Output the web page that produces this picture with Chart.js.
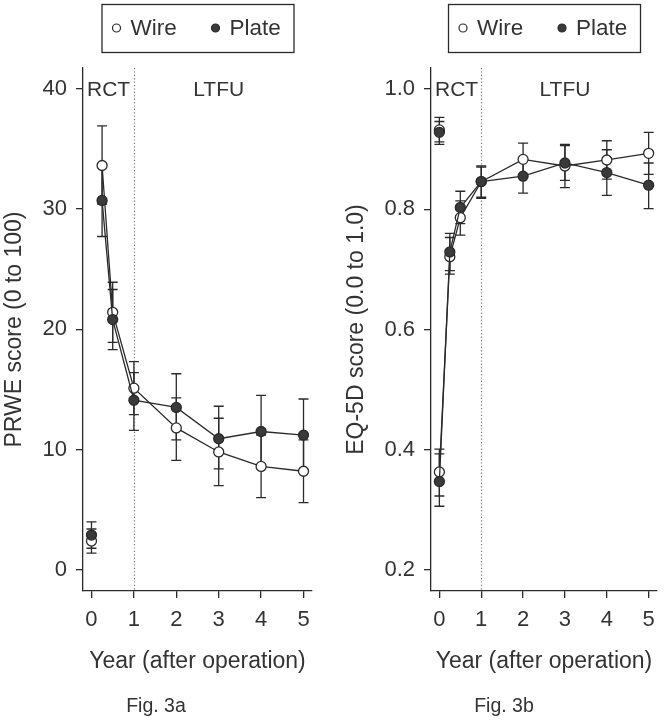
<!DOCTYPE html>
<html>
<head>
<meta charset="utf-8">
<title>PRWE and EQ-5D scores, wire vs plate</title>
<script src="https://cdn.jsdelivr.net/npm/chart.js@4.4.0/dist/chart.umd.min.js"></script>
<style>
  body { margin: 0; background: #fff; }
  .panel { position: absolute; top: 0; width: 332px; height: 722px; }
  #panelA { left: 0; }
  #panelB { left: 332px; }
</style>
</head>
<body>
<div id="panelA" class="panel"><canvas id="chartA" width="332" height="722"></canvas></div>
<div id="panelB" class="panel"><canvas id="chartB" width="332" height="722"></canvas></div>
<script>
// x ticks shared by both panels
const yearTicks = [0, 1, 2, 3, 4, 5]

// Fig. 3a - PRWE (first point = pre-injury, not joined to the rest)
const prweYears = [0, 0.25, 0.5, 1, 2, 3, 4, 5]
const prweWire = [2.4, 33.6, 21.4, 15.1, 11.8, 9.8, 8.6, 8.2]
const prweWireLo = [1.4, 30.4, 18.9, 12.9, 9.1, 7.0, 6.0, 5.6]
const prweWireHi = [3.4, 36.9, 23.9, 17.3, 14.3, 12.6, 11.2, 10.8]
const prwePlate = [2.9, 30.7, 20.8, 14.1, 13.5, 10.9, 11.5, 11.2]
const prwePlateLo = [1.8, 27.7, 18.3, 11.6, 10.8, 8.4, 8.6, 8.3]
const prwePlateHi = [4.0, 33.7, 23.3, 16.4, 16.3, 13.6, 14.5, 14.2]
const prweTicks = [0, 10, 20, 30, 40]

// Fig. 3b - EQ-5D (first point = pre-injury, second = at injury)
const eqYears = [0, 0, 0.25, 0.5, 1, 2, 3, 4, 5]
const eqWire = [0.932, 0.363, 0.721, 0.786, 0.846, 0.883, 0.872, 0.882, 0.893]
const eqWireLo = [0.912, 0.323, 0.692, 0.757, 0.820, 0.856, 0.836, 0.850, 0.858]
const eqWireHi = [0.953, 0.401, 0.753, 0.814, 0.870, 0.910, 0.908, 0.914, 0.928]
const eqPlate = [0.928, 0.347, 0.729, 0.803, 0.846, 0.855, 0.877, 0.861, 0.840]
const eqPlateLo = [0.908, 0.306, 0.698, 0.776, 0.818, 0.827, 0.848, 0.823, 0.801]
const eqPlateHi = [0.946, 0.393, 0.760, 0.830, 0.872, 0.883, 0.906, 0.899, 0.877]
const eqTicks = [0.2, 0.4, 0.6, 0.8, 1.0]

const ink = '#2a2a2a'
const txt = '#333'
Chart.defaults.font.family = "'Liberation Sans', Arial, sans-serif"
Chart.defaults.color = txt

// points with a null y after the first one break the line there
function series(xs, ys, lo, hi) {
  const out = []
  xs.forEach((x, i) => {
    out.push({ x: x, y: ys[i], lo: lo[i], hi: hi[i] })
    if (i === 0) out.push({ x: xs[1], y: null })
  })
  return out
}

const decor = {
  id: 'decor',
  beforeDatasetsDraw(chart, args, opts) {
    const { ctx, chartArea: a, scales: { x, y } } = chart
    ctx.save()
    // dotted split RCT / LTFU
    const px = Math.round(x.getPixelForValue(opts.splitAt)) + 0.5
    ctx.strokeStyle = '#777'
    ctx.lineWidth = 1.2
    ctx.setLineDash([1.2, 2.2])
    ctx.beginPath()
    ctx.moveTo(px, a.top)
    ctx.lineTo(px, a.bottom)
    ctx.stroke()
    ctx.setLineDash([])
    // error bars
    ctx.strokeStyle = ink
    ctx.lineWidth = 1.3
    chart.data.datasets.forEach(ds => ds.data.forEach(p => {
      if (p.y == null) return
      const cx = x.getPixelForValue(p.x)
      const t = y.getPixelForValue(p.hi)
      const b = y.getPixelForValue(p.lo)
      ctx.beginPath()
      ctx.moveTo(cx, t); ctx.lineTo(cx, b)
      ctx.moveTo(cx - 5, t); ctx.lineTo(cx + 5, t)
      ctx.moveTo(cx - 5, b); ctx.lineTo(cx + 5, b)
      ctx.stroke()
    }))
    ctx.restore()
  },
  afterDraw(chart, args, opts) {
    const { ctx, chartArea: a, scales: { x } } = chart
    ctx.save()
    ctx.fillStyle = txt
    ctx.textBaseline = 'middle'
    // period labels
    ctx.font = "21px 'Liberation Sans', Arial, sans-serif"
    ctx.textAlign = 'left'
    ctx.fillText('RCT', a.left + 4, a.top + 22)
    ctx.textAlign = 'center'
    ctx.fillText('LTFU', x.getPixelForValue(3), a.top + 22)
    // legend box
    const bw = 192, bx = (a.left + a.right) / 2 - bw / 2, by = 4, bh = 48
    ctx.strokeStyle = ink
    ctx.lineWidth = 1.3
    ctx.strokeRect(bx + 0.5, by + 0.5, bw, bh)
    ctx.font = "22.5px 'Liberation Sans', Arial, sans-serif"
    ctx.textAlign = 'left'
    const offs = [15, 114]
    chart.data.datasets.forEach((ds, i) => {
      const cx = bx + offs[i], cy = by + bh / 2
      ctx.beginPath()
      ctx.arc(cx, cy, 4, 0, Math.PI * 2)
      ctx.fillStyle = ds.pointBackgroundColor
      ctx.fill()
      ctx.lineWidth = 1.2
      ctx.stroke()
      ctx.fillStyle = txt
      ctx.fillText(ds.label, cx + 14, cy + 1)
    })
    // figure caption
    ctx.font = "19.5px 'Liberation Sans', Arial, sans-serif"
    ctx.textAlign = 'center'
    ctx.fillText(opts.caption, a.left + 73, 707)
    ctx.restore()
  }
}

function makeChart(id, cfg) {
  const lineStyle = {
    borderColor: ink,
    borderWidth: 1.3,
    pointRadius: 5,
    pointBorderWidth: 1.3,
    pointBorderColor: ink,
    spanGaps: false,
    tension: 0
  }
  return new Chart(document.getElementById(id), {
    type: 'line',
    data: {
      datasets: [
        Object.assign({ label: 'Wire', data: cfg.wire, pointBackgroundColor: '#fff', order: 2 }, lineStyle),
        Object.assign({ label: 'Plate', data: cfg.plate, pointBackgroundColor: '#3a3a3a', order: 1 }, lineStyle)
      ]
    },
    options: {
      responsive: false,
      animation: false,
      events: [],
      layout: { padding: { left: 0, top: 68, right: cfg.padRight, bottom: 0 } },
      plugins: {
        legend: { display: false },
        tooltip: { enabled: false },
        decor: { splitAt: 1, caption: cfg.caption }
      },
      scales: {
        x: {
          type: 'linear',
          min: -0.2,
          max: 5.2,
          afterBuildTicks: s => { s.ticks = yearTicks.map(v => ({ value: v })) },
          afterFit: s => { s.height = 131 },
          border: { display: true, color: ink, width: 1.3 },
          grid: { drawOnChartArea: false, drawTicks: true, tickLength: 7, color: ink, lineWidth: 1.3 },
          ticks: { color: txt, font: { size: 22 }, padding: 9, maxRotation: 0 },
          title: { display: true, text: 'Year (after operation)', color: txt, font: { size: 23 }, padding: { top: 0, bottom: 47 } }
        },
        y: {
          type: 'linear',
          min: cfg.yMin,
          max: cfg.yMax,
          afterBuildTicks: s => { s.ticks = cfg.ticks.map(v => ({ value: v })) },
          afterFit: s => { s.width = cfg.axisWidth },
          border: { display: true, color: ink, width: 1.3 },
          grid: { drawOnChartArea: false, drawTicks: true, tickLength: 7, color: ink, lineWidth: 1.3 },
          ticks: { color: txt, font: { size: 22 }, padding: 9, callback: cfg.fmt },
          title: { display: true, text: cfg.yTitle, color: txt, font: { size: 23 }, padding: { top: cfg.titlePad, bottom: 0 } }
        }
      }
    },
    plugins: [decor]
  })
}

makeChart('chartA', {
  wire: series(prweYears, prweWire, prweWireLo, prweWireHi),
  plate: series(prweYears, prwePlate, prwePlateLo, prwePlateHi),
  ticks: prweTicks,
  yMin: -1.75,
  yMax: 41.7,
  fmt: v => String(v),
  yTitle: 'PRWE score (0 to 100)',
  axisWidth: 83,
  titlePad: 1,
  padRight: 20,
  caption: 'Fig. 3a'
})

makeChart('chartB', {
  wire: series(eqYears, eqWire, eqWireLo, eqWireHi),
  plate: series(eqYears, eqPlate, eqPlateLo, eqPlateHi),
  ticks: eqTicks,
  yMin: 0.165,
  yMax: 1.035,
  fmt: v => v.toFixed(1),
  yTitle: 'EQ-5D score (0.0 to 1.0)',
  axisWidth: 99,
  titlePad: 11,
  padRight: 4,
  caption: 'Fig. 3b'
})
</script>
</body>
</html>
